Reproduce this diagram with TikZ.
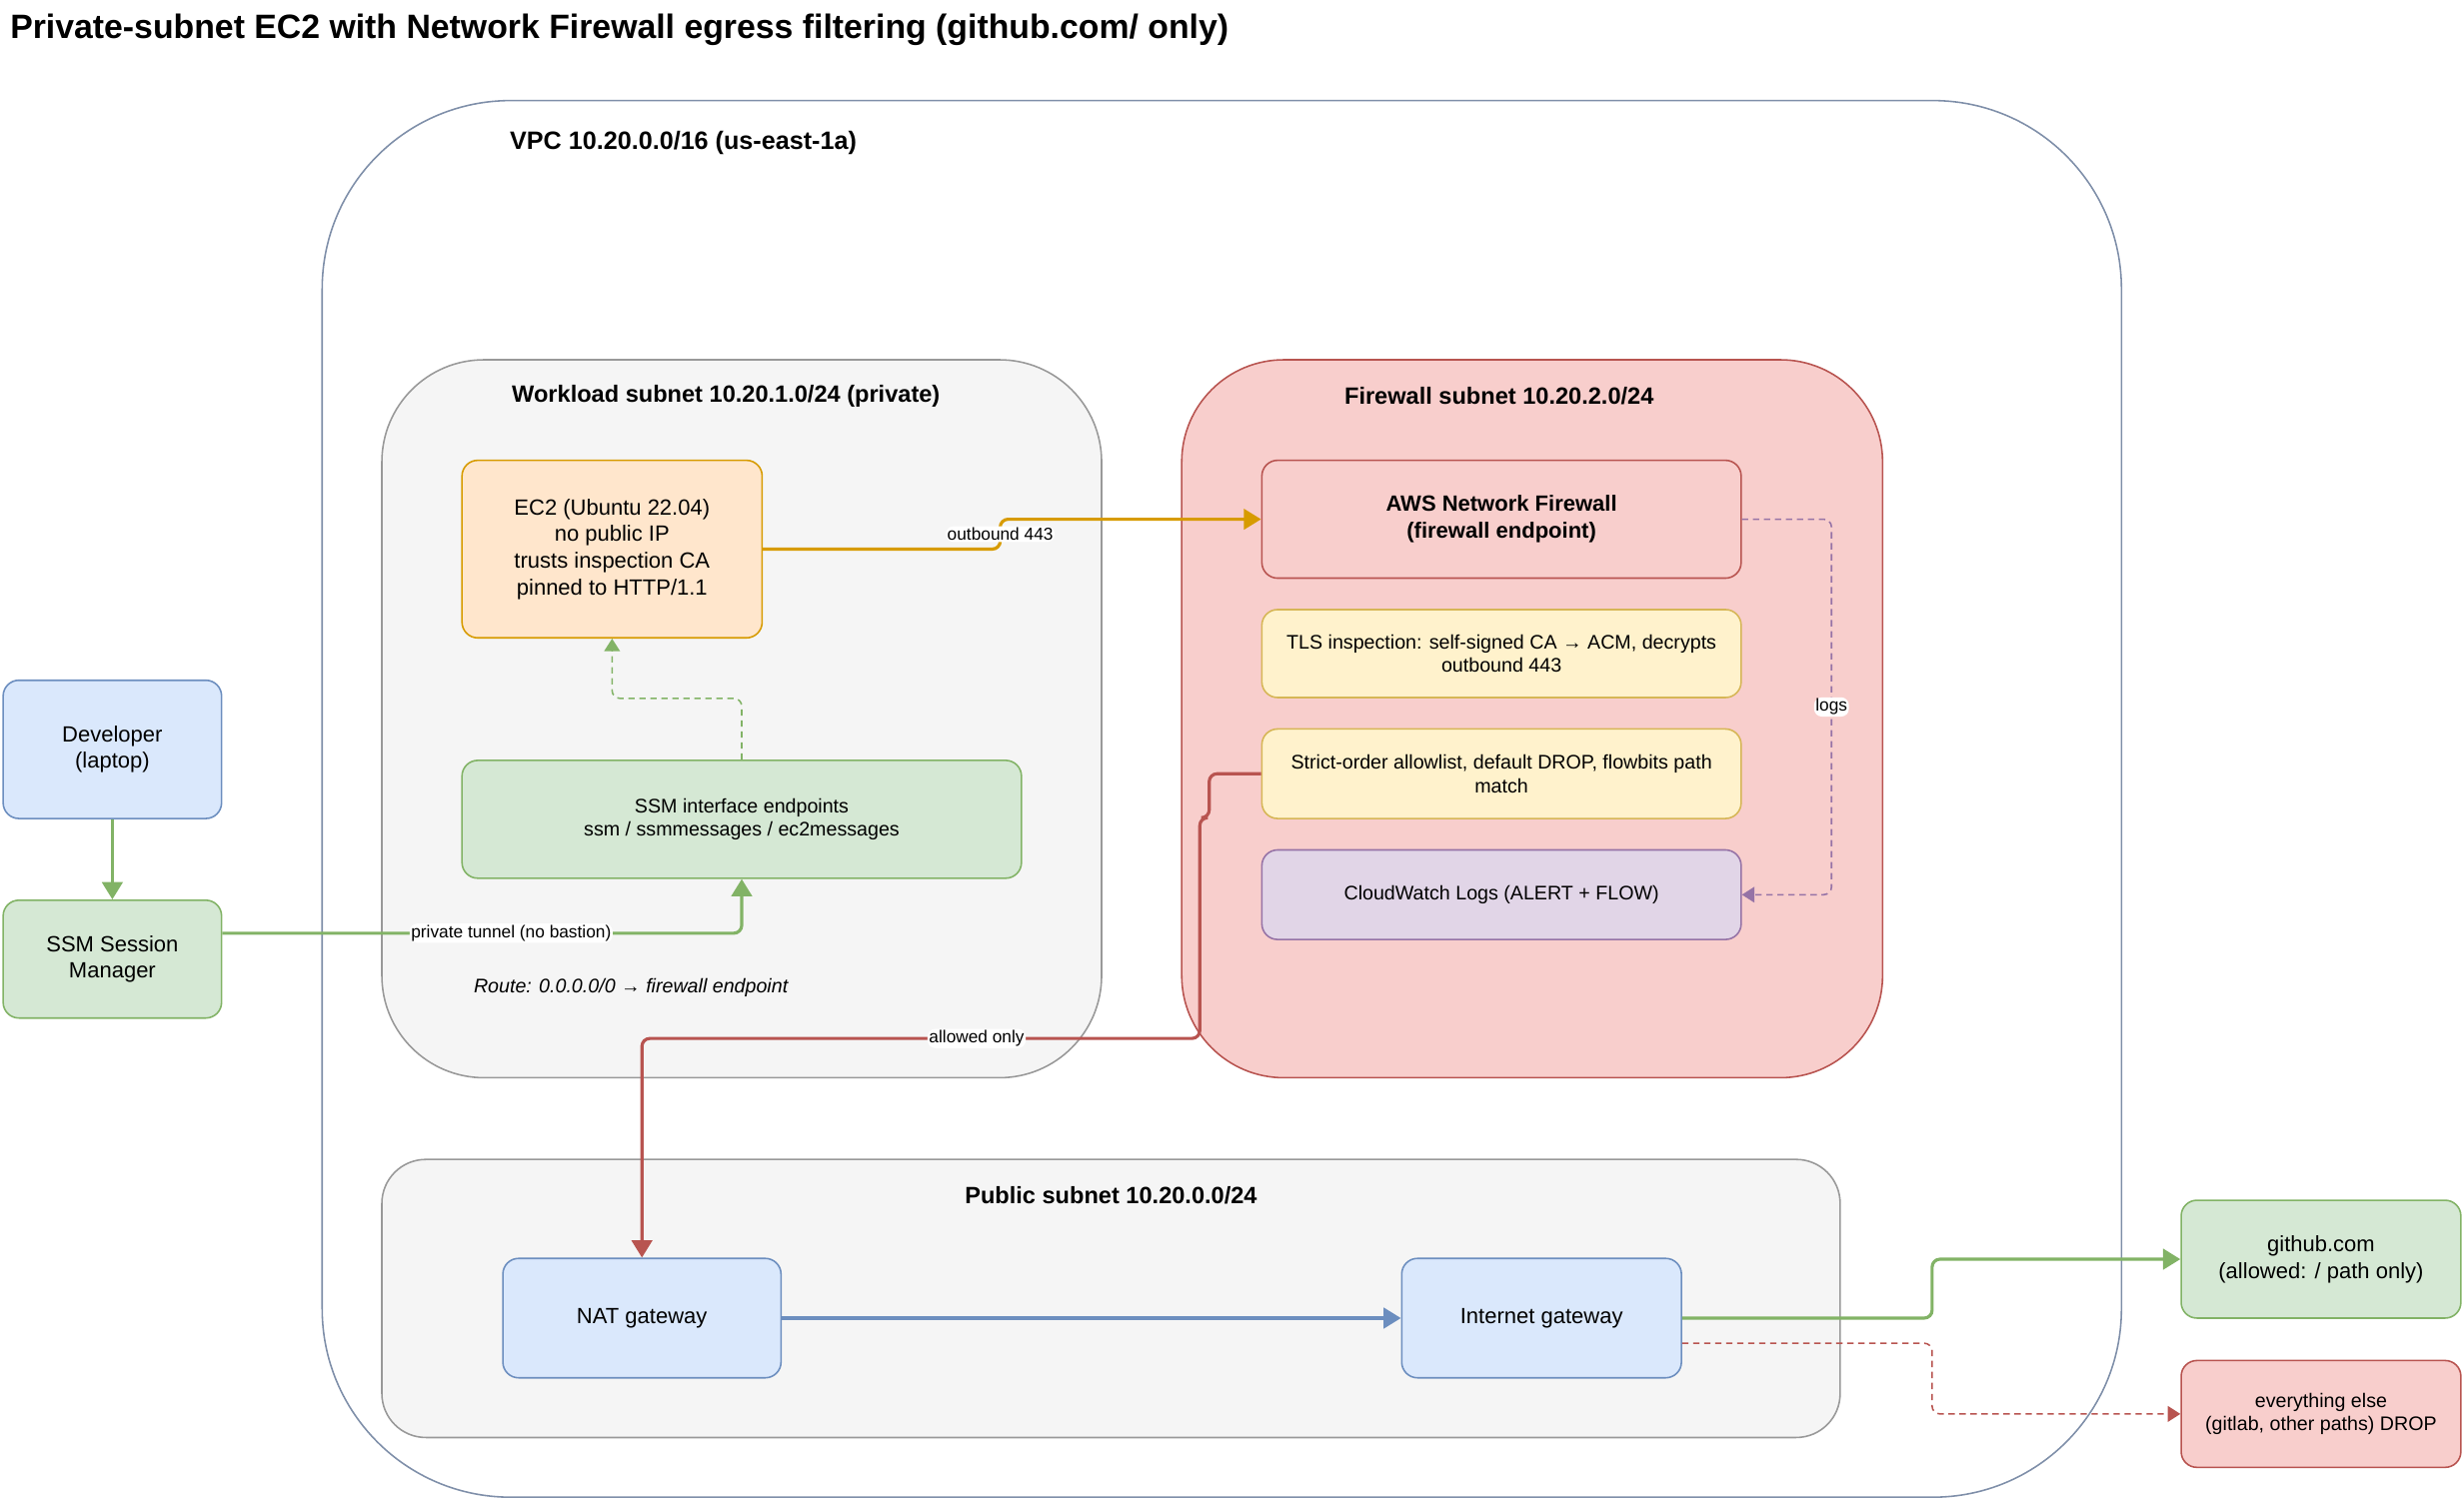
\documentclass[tikz,border=0pt]{standalone}
\usepackage{fontspec}
\setmainfont{Liberation Sans}
\usetikzlibrary{arrows.meta,positioning}
\definecolor{bluefill}{HTML}{DAE8FC}
\definecolor{blueline}{HTML}{6C8EBF}
\definecolor{greenfill}{HTML}{D5E8D4}
\definecolor{greenline}{HTML}{82B366}
\definecolor{redfill}{HTML}{F8CECC}
\definecolor{redline}{HTML}{B85450}
\definecolor{orangefill}{HTML}{FFE6CC}
\definecolor{orangeline}{HTML}{D79B00}
\definecolor{yellowfill}{HTML}{FFF2CC}
\definecolor{yellowline}{HTML}{D6B656}
\definecolor{purplefill}{HTML}{E1D5E7}
\definecolor{purpleline}{HTML}{9673A6}
\definecolor{grayfill}{HTML}{F5F5F5}
\definecolor{grayline}{HTML}{999999}
\definecolor{vpcline}{HTML}{7F8FA9}

\begin{document}
\begin{tikzpicture}[x=1pt, y=-1pt,
  box/.style={draw, rounded corners=10pt, line width=1pt, align=center, inner sep=2pt, font=\fontsize{14}{17}\selectfont},
  smallbox/.style={box, font=\fontsize{12.5}{15}\selectfont},
  zone/.style={draw, line width=1pt, inner sep=0pt},
  zonetitle/.style={font=\fontsize{15}{18}\selectfont\bfseries},
  lbl/.style={fill=white, text=black, inner sep=1pt, font=\fontsize{11}{13}\selectfont},
  flow/.style={line width=2pt, rounded corners=5pt, -{Triangle[length=11pt,width=13pt]}},
  dflow/.style={line width=1pt, dash pattern=on 4pt off 3pt, rounded corners=5pt, -{Triangle[length=8pt,width=10pt]}},
  node distance=19pt]
  \useasboundingbox (0,0) rectangle (1568,956);
  \node[anchor=west, font=\fontsize{21.5}{25}\selectfont\bfseries] (title) at (3,19) {Private-subnet EC2 with Network Firewall egress filtering (github.com/ only)};

  \node[zone, draw=vpcline, rounded corners=120pt, minimum width=1145pt, minimum height=889pt] (vpc) at (777.5,508.5) {};
  \node[anchor=west, font=\fontsize{16}{19}\selectfont\bfseries] (vpctitle) at (321,91) {VPC 10.20.0.0/16 (us-east-1a)};
  \node[zone, draw=grayline, fill=grayfill, rounded corners=65pt, minimum width=458pt, minimum height=457pt] (work) at (472,457.5) {};
  \node[zonetitle] (worktitle) at (462,252) {Workload subnet 10.20.1.0/24 (private)};
  \node[zone, draw=redline, fill=redfill, rounded corners=65pt, minimum width=446pt, minimum height=457pt] (fwsub) at (975,457.5) {};
  \node[zonetitle] (fwtitle) at (954,252) {Firewall subnet 10.20.2.0/24};
  \node[zone, draw=grayline, fill=grayfill, rounded corners=28pt, minimum width=928pt, minimum height=177pt] (pub) at (707,826.5) {};
  \node[zonetitle] (pubtitle) at (707,761) {Public subnet 10.20.0.0/24};

  \node[box, fill=bluefill, draw=blueline, minimum width=139pt, minimum height=88pt] (dev) at (71.5,477) {Developer\\(laptop)};
  \node[box, fill=greenfill, draw=greenline, minimum width=139pt, minimum height=75pt, below=51pt of dev] (ssm) {SSM Session\\Manager};
  \node[box, fill=orangefill, draw=orangeline, minimum width=191pt, minimum height=113pt] (ec2) at (389.5,349.5) {EC2 (Ubuntu 22.04)\\no public IP\\trusts inspection CA\\pinned to HTTP/1.1};
  \node[smallbox, fill=greenfill, draw=greenline, minimum width=356pt, minimum height=75pt] (ssmep) at (472,521.5) {SSM interface endpoints\\ssm / ssmmessages / ec2messages};
  \node[anchor=west, font=\fontsize{12.5}{15}\selectfont\itshape] (route) at (298,629) {Route: 0.0.0.0/0 → firewall endpoint};

  \node[box, fill=redfill, draw=redline, minimum width=305pt, minimum height=75pt, font=\fontsize{14}{17}\selectfont\bfseries] (fw) at (955.5,330.5) {AWS Network Firewall\\(firewall endpoint)};
  \node[smallbox, fill=yellowfill, draw=yellowline, minimum width=305pt, minimum height=56pt, below=of fw] (tls) {TLS inspection: self-signed CA → ACM, decrypts\\outbound 443};
  \node[smallbox, fill=yellowfill, draw=yellowline, minimum width=305pt, minimum height=57pt, below=of tls] (rules) {Strict-order allowlist, default DROP, flowbits path\\match};
  \node[smallbox, fill=purplefill, draw=purpleline, minimum width=305pt, minimum height=57pt, below=of rules] (cw) {CloudWatch Logs (ALERT + FLOW)};

  \node[box, fill=bluefill, draw=blueline, minimum width=177pt, minimum height=76pt] (nat) at (408.5,839) {NAT gateway};
  \node[box, fill=bluefill, draw=blueline, minimum width=178pt, minimum height=76pt, right=394pt of nat] (igw) {Internet gateway};
  \node[box, fill=greenfill, draw=greenline, minimum width=178pt, minimum height=75pt] (gh) at (1477,801.5) {github.com\\(allowed: / path only)};
  \node[smallbox, fill=redfill, draw=redline, minimum width=178pt, minimum height=68pt, below=26pt of gh] (drop) {everything else\\(gitlab, other paths) DROP};

  \draw[flow, orangeline] (ec2.east) -- ++(151,0) |- node[lbl, pos=0.25]{outbound 443} (fw.west);
  \draw[dflow, greenline] (ssmep.north) -- ++(0,-39) -| (ec2.south);
  \draw[flow, greenline] (dev.south) -- (ssm.north);
  \draw[flow, greenline] ([yshift=16.5pt]ssm.east) -| node[lbl, pos=0.278]{private tunnel (no bastion)} (ssmep.south);
  \draw[flow, redline] (rules.west) -- ++(-33,0) -- ++(0,28) -- ++(-6,0) -- ++(0,140.5) -| node[lbl, pos=0.2]{allowed only} (nat.north);
  \draw[flow, blueline] (nat.east) -- (igw.west);
  \draw[flow, greenline] (igw.east) -- ++(159,0) |- (gh.west);
  \draw[dflow, redline] ([yshift=-16pt]igw.east) -- ++(159,0) |- (drop.west);
  \draw[dflow, purpleline] (fw.east) -- ++(57,0) |- node[lbl, pos=0.25]{logs} (cw.east);
\end{tikzpicture}
\end{document}
